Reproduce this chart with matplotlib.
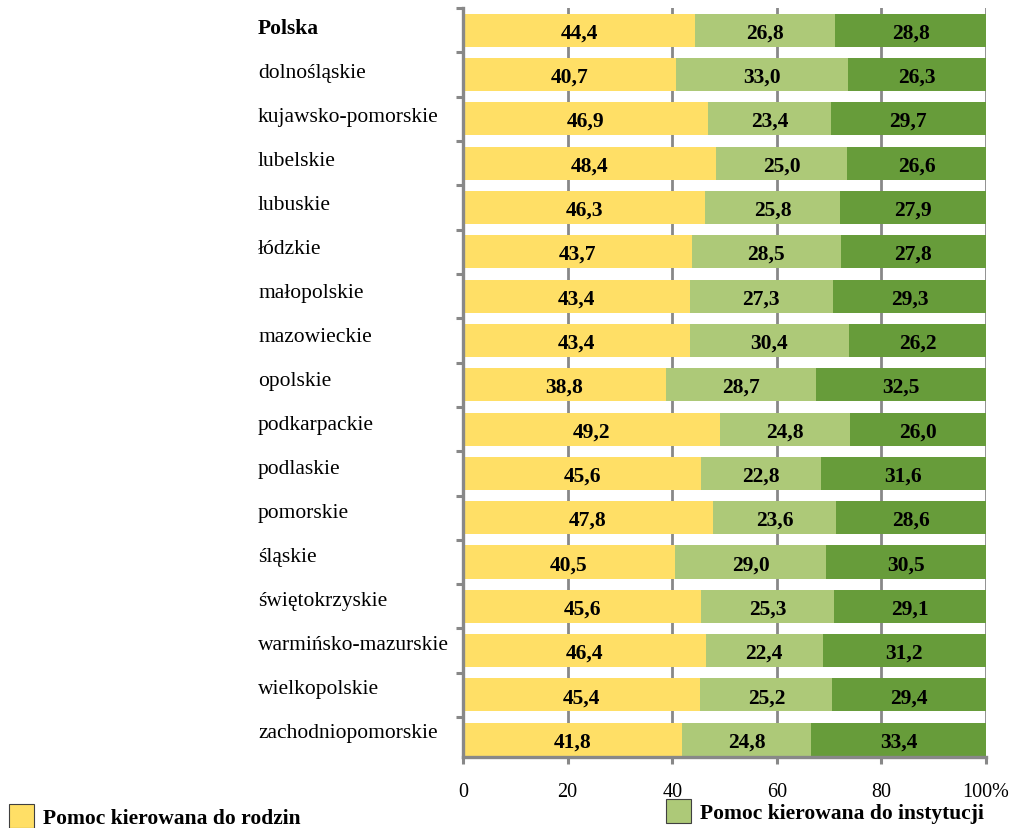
import numpy as np
import matplotlib
matplotlib.use('Agg')
import matplotlib.pyplot as plt
from matplotlib.patches import Patch

plt.rcParams['font.family'] = ['Liberation Serif', 'DejaVu Serif']

# udział form pomocy wg województw (%)
regions = ['Polska', 'dolnośląskie', 'kujawsko-pomorskie', 'lubelskie', 'lubuskie',
           'łódzkie', 'małopolskie', 'mazowieckie', 'opolskie', 'podkarpackie',
           'podlaskie', 'pomorskie', 'śląskie', 'świętokrzyskie',
           'warmińsko-mazurskie', 'wielkopolskie', 'zachodniopomorskie']
rodziny = [44.4, 40.7, 46.9, 48.4, 46.3, 43.7, 43.4, 43.4, 38.8, 49.2,
           45.6, 47.8, 40.5, 45.6, 46.4, 45.4, 41.8]
instytucje = [26.8, 33.0, 23.4, 25.0, 25.8, 28.5, 27.3, 30.4, 28.7, 24.8,
              22.8, 23.6, 29.0, 25.3, 22.4, 25.2, 24.8]
pozostale = [28.8, 26.3, 29.7, 26.6, 27.9, 27.8, 29.3, 26.2, 32.5, 26.0,
             31.6, 28.6, 30.5, 29.1, 31.2, 29.4, 33.4]
xticks = [0, 20, 40, 60, 80, 100]
xlabels = ['0', '20', '40', '60', '80', '100%']

colors = ['#FFDF66', '#ADC978', '#679C3A']
grey = '#888888'

fig = plt.figure(figsize=(10.21, 8.29), dpi=100)
ax = fig.add_axes([463 / 1021, 1 - 758 / 829, 523 / 1021, 749 / 829])

n = len(regions)
y = np.arange(n)
left = np.zeros(n)
for vals, c in zip([rodziny, instytucje, pozostale], colors):
    vals = np.array(vals)
    ax.barh(y, vals, left=left, height=0.745, color=c, zorder=2)
    for yi, l, v in zip(y, left, vals):
        ax.text(l + v / 2, yi + 0.05, f'{v:.1f}'.replace('.', ','),
                ha='center', va='center', fontsize=15.5, fontweight='bold', zorder=3)
    left += vals

ax.set_xlim(0, 100)
ax.set_ylim(n - 0.6, -0.5)

ax.set_xticks(xticks)
ax.set_xticklabels(xlabels, fontsize=14.5)
ax.xaxis.grid(True, color=grey, linewidth=2, zorder=0)
ax.set_axisbelow(True)

# granice wierszy jako główne znaczniki, nazwy jako pomocnicze (lekko uniesione)
ax.set_yticks(np.arange(n) - 0.5)
ax.set_yticklabels([])
ax.set_yticks(-0.094 + y * 0.9934, minor=True)
ax.set_yticklabels(regions, minor=True, fontsize=15.5, ha='left')
for lbl in ax.get_yticklabels(minor=True):
    if lbl.get_text() == 'Polska':
        lbl.set_fontweight('bold')
ax.tick_params(axis='y', which='minor', length=0, pad=147.6)
ax.tick_params(axis='y', which='major', length=5, width=2.2, color=grey)
ax.tick_params(axis='x', length=5, width=2.2, color=grey, pad=13)

for s in ['top', 'right']:
    ax.spines[s].set_visible(False)
for s in ['left', 'bottom']:
    ax.spines[s].set_color(grey)
    ax.spines[s].set_linewidth(2.4)

leg_kw = dict(frameon=False, handlelength=1.15, handleheight=1.35, handletextpad=0.45,
              prop={'weight': 'bold', 'size': 15.5}, loc='center left',
              borderaxespad=0, borderpad=0)
fig.legend(handles=[Patch(facecolor=colors[0], edgecolor='#404040', linewidth=0.8,
                          label='Pomoc kierowana do rodzin')],
           bbox_to_anchor=(9 / 1021, 1 - 817 / 829), **leg_kw)
fig.legend(handles=[Patch(facecolor=colors[1], edgecolor='#404040', linewidth=0.8,
                          label='Pomoc kierowana do instytucji')],
           bbox_to_anchor=(666 / 1021, 1 - 812 / 829), **leg_kw)

fig.savefig('out.png', dpi=100)
